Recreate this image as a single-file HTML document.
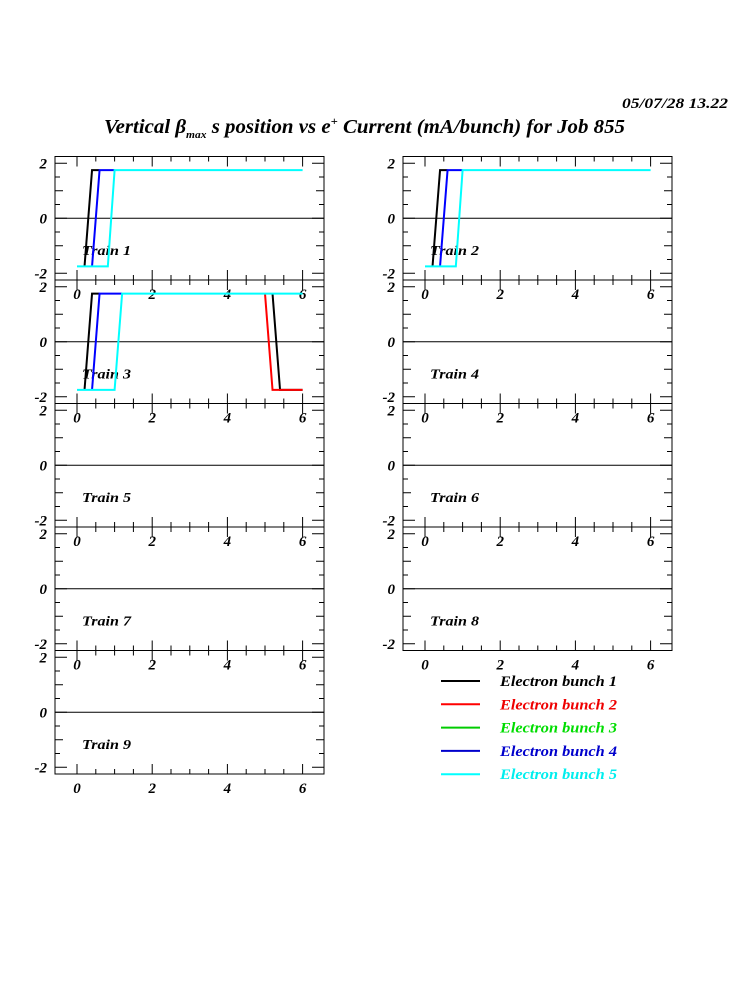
<!DOCTYPE html>
<html><head><meta charset="utf-8"><style>
body{margin:0;background:#fff}
svg text{font-family:"Liberation Serif",serif;font-weight:bold;font-style:italic}
</style></head><body>
<svg id="s" width="750" height="1000" xmlns="http://www.w3.org/2000/svg">
<text x="622" y="108" font-size="15" textLength="106" lengthAdjust="spacingAndGlyphs">05/07/28   13.22</text>
<text x="104" y="133" font-size="20" textLength="521" lengthAdjust="spacingAndGlyphs">Vertical β<tspan font-size="11" dy="5">max</tspan><tspan dy="-5"> s position vs e</tspan><tspan font-size="12" dy="-8">+</tspan><tspan dy="8"> Current (mA/bunch) for Job 855</tspan></text>
</svg>
<script>
const s=document.getElementById('s');let h='';
const H=123.5,tops=[156.5,280,403.5,527,650.5];
function panel(x0,T,n,series){
 const X=v=>x0+22+v*37.6, Y=v=>T+61.75-v*27.5, W=269;
 h+=`<rect x="${x0}" y="${T}" width="${W}" height="${H}" fill="none" stroke="#000" stroke-width="1"/>`;
 h+=`<line x1="${x0}" x2="${x0+W}" y1="${Y(0)}" y2="${Y(0)}" stroke="#000"/>`;
 for(let i=0;i<=12;i++){const v=i*0.5,x=X(v),L=(i%4==0)?10:5;
  h+=`<line x1="${x}" x2="${x}" y1="${T+H}" y2="${T+H-L}" stroke="#000"/><line x1="${x}" x2="${x}" y1="${T}" y2="${T+L}" stroke="#000"/>`;}
 for(let i=-4;i<=4;i++){const v=i*0.5,y=Y(v),L=(i%2==0)?(i%4==0?12:8):5;
  h+=`<line x1="${x0}" x2="${x0+L}" y1="${y}" y2="${y}" stroke="#000"/><line x1="${x0+W}" x2="${x0+W-L}" y1="${y}" y2="${y}" stroke="#000"/>`;}
 [0,2,4,6].forEach(v=>h+=`<text x="${X(v)}" y="${T+H+19}" font-size="15" text-anchor="middle">${v}</text>`);
 [[2,'2'],[0,'0'],[-2,'-2']].forEach(([v,t])=>h+=`<text x="${x0-8}" y="${Y(v)+5}" font-size="15" text-anchor="end">${t}</text>`);
 h+=`<text x="${x0+27}" y="${Y(-1.15)+5}" font-size="14" textLength="49" lengthAdjust="spacingAndGlyphs">Train ${n}</text>`;
 (series||[]).forEach(([c,pts])=>h+=`<polyline fill="none" stroke="${c}" stroke-width="2" points="${pts.map(p=>X(p[0])+','+Y(p[1])).join(' ')}"/>`);
}
const a=1.75;
const s1=[['#000',[[0.2,-a],[0.4,a],[0.6,a]]],['#00f',[[0.4,-a],[0.6,a],[1.0,a]]],['#0ff',[[0,-a],[0.82,-a],[1.0,a],[6,a]]]];
const s3=[['#000',[[0.2,-a],[0.4,a],[0.6,a]]],['#000',[[5.2,a],[5.4,-a],[6,-a]]],['#f00',[[5.0,a],[5.2,-a],[6,-a]]],['#00f',[[0.4,-a],[0.6,a],[1.2,a]]],['#0ff',[[0,-a],[1.0,-a],[1.2,a],[6,a]]]];
for(let r=0;r<5;r++){panel(55,tops[r],2*r+1,r==0?s1:r==1?s3:null); if(r<4)panel(403,tops[r],2*r+2,r==0?s1:null);}
const lc=['#000','#f00','#0c0','#00c','#0ff'],tc=['#000','#e00','#0d0','#00c','#0ee'];
for(let i=0;i<5;i++){const y=681+i*23.3;h+=`<line x1="441" x2="480" y1="${y}" y2="${y}" stroke="${lc[i]}" stroke-width="2"/><text x="500" y="${y+5}" font-size="15" fill="${tc[i]}" textLength="117" lengthAdjust="spacingAndGlyphs">Electron bunch ${i+1}</text>`;}
s.insertAdjacentHTML('beforeend',h);
</script>
</body></html>
